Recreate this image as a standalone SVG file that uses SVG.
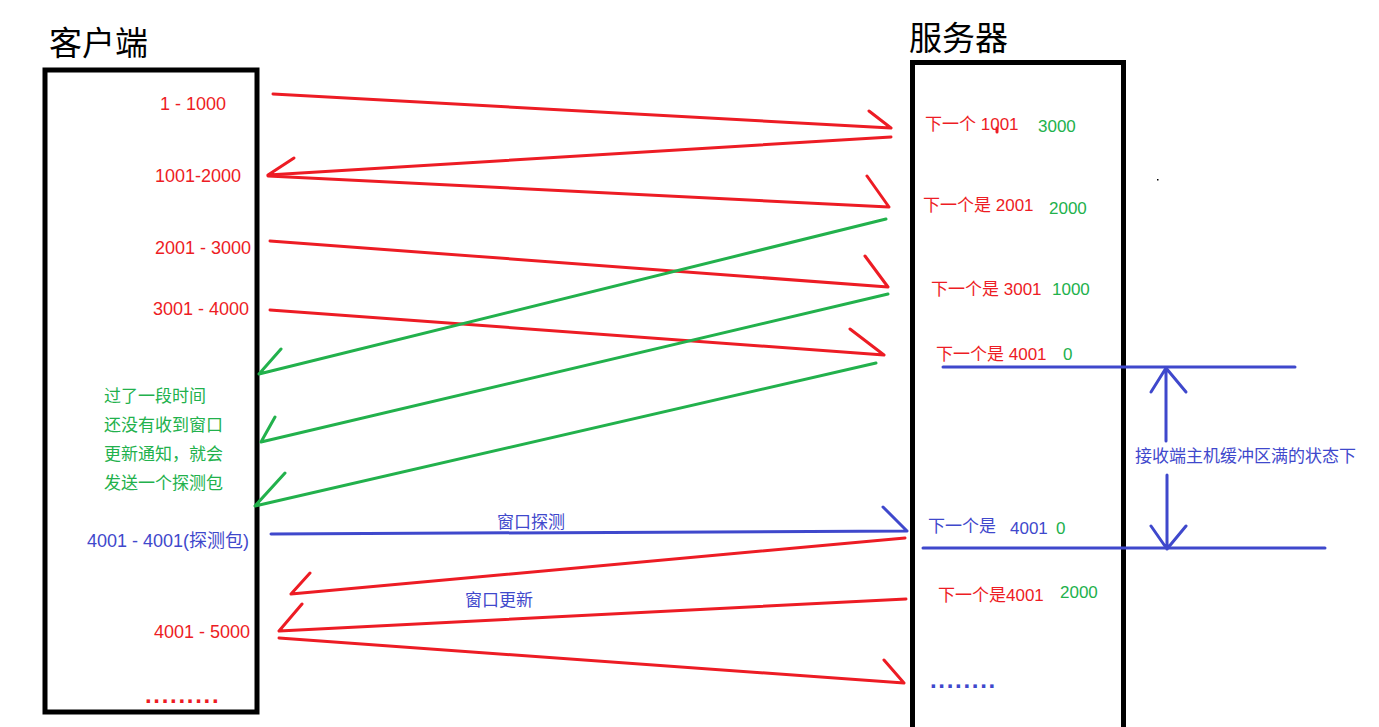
<svg xmlns="http://www.w3.org/2000/svg" width="1379" height="727" viewBox="0 0 1379 727">
<style>
text{font-family:"Liberation Sans","Noto Sans CJK SC",sans-serif}
.title{font-size:33px;fill:#000}
.box{fill:none;stroke:#000;stroke-width:5}
.r{fill:#ed1c24}
.g{fill:#22b14c}
.b{fill:#3f48cc}
.s18{font-size:18px}
.s17{font-size:17px}
.lr{fill:none;stroke:#ed1c24;stroke-width:3;stroke-linecap:round;stroke-linejoin:round}
.lg{fill:none;stroke:#22b14c;stroke-width:3;stroke-linecap:round;stroke-linejoin:round}
.lb{fill:none;stroke:#3f48cc;stroke-width:3;stroke-linecap:round;stroke-linejoin:round}
.dots{font-size:24px;font-weight:bold;letter-spacing:1.7px}
</style>
<rect width="1379" height="727" fill="#fff"/>

<g id="client">
  <text class="title" x="49" y="55">客户端</text>
  <rect class="box" x="45" y="70" width="212" height="642"/>
</g>

<g id="server">
  <text class="title" x="909" y="50">服务器</text>
  <path class="box" d="M912.5,740 V62.5 H1123.5 V740"/>
</g>

<g id="client-labels">
  <text class="r s18" x="160" y="110">1 - 1000</text>
  <text class="r s18" x="155" y="182">1001-2000</text>
  <text class="r s18" x="155" y="254">2001 - 3000</text>
  <text class="r s18" x="153" y="315">3001 - 4000</text>
  <text class="b s18" x="87" y="547">4001 - 4001(探测包)</text>
  <text class="r s18" x="154" y="638">4001 - 5000</text>
  <text class="r dots" x="145" y="703">.........</text>
</g>

<g id="probe-note">
  <text class="g s17" x="104" y="402">过了一段时间</text>
  <text class="g s17" x="104" y="431">还没有收到窗口</text>
  <text class="g s17" x="104" y="460">更新通知，就会</text>
  <text class="g s17" x="104" y="489">发送一个探测包</text>
</g>

<g id="server-labels">
  <text class="r s17" x="925" y="130">下一个 1001</text>
  <text class="g s17" x="1038" y="132">3000</text>
  <text class="r s17" x="923" y="211">下一个是 2001</text>
  <text class="g s17" x="1049" y="214">2000</text>
  <text class="r s17" x="931" y="295">下一个是 3001</text>
  <text class="g s17" x="1052" y="295">1000</text>
  <text class="r s17" x="936" y="360">下一个是 4001</text>
  <text class="g s17" x="1063" y="360">0</text>
  <text class="b s17" x="928" y="532">下一个是</text>
  <text class="b s17" x="1010" y="534">4001</text>
  <text class="g s17" x="1056" y="534">0</text>
  <text class="r s17" x="938" y="601">下一个是4001</text>
  <text class="g s17" x="1060" y="598">2000</text>
  <text class="b dots" x="930" y="688">........</text>
</g>

<g id="buffer-full">
  <path class="lb" d="M943,367 H1295 M923,548 H1325"/>
  <path class="lb" d="M1166,441 V368 M1151,392 L1166,368 L1186,392"/>
  <path class="lb" d="M1167,475 V549 M1151,526 L1167,549 L1186,526"/>
  <text class="b s17" x="1135" y="462">接收端主机缓冲区满的状态下</text>
</g>

<g id="connectors">
  <path class="lr" d="M273,94 L891,128 M869,111 L891,128"/>
  <path class="lr" d="M891,137 L268,175 M294,158 L268,175"/>
  <path class="lr" d="M268,176 L889,207 M867,176 L889,207"/>
  <path class="lr" d="M270,241 L888,287 M865,256 L888,287"/>
  <path class="lr" d="M270,310 L884,355 M850,329 L884,355"/>
  <path class="lr" d="M997,128 L997,132"/>
  <path class="lg" d="M886,219 L259,374 M281,349 L259,374"/>
  <path class="lg" d="M888,294 L261,442 M275,417 L261,442"/>
  <path class="lg" d="M876,363 L255,506 M285,473 L255,506"/>
  <path class="lb" d="M271,534 L907,531 M883,507 L907,531"/>
  <text class="b s17" x="497" y="528">窗口探测</text>
  <path class="lr" d="M905,538 L291,594 M310,573 L291,594"/>
  <path class="lr" d="M906,599 L279,631 M302,604 L279,631"/>
  <text class="b s17" x="465" y="606">窗口更新</text>
  <path class="lr" d="M279,638 L904,683 M884,660 L904,683"/>
  <rect x="1157" y="179" width="1.5" height="1.5" fill="#000"/>
</g>
</svg>
